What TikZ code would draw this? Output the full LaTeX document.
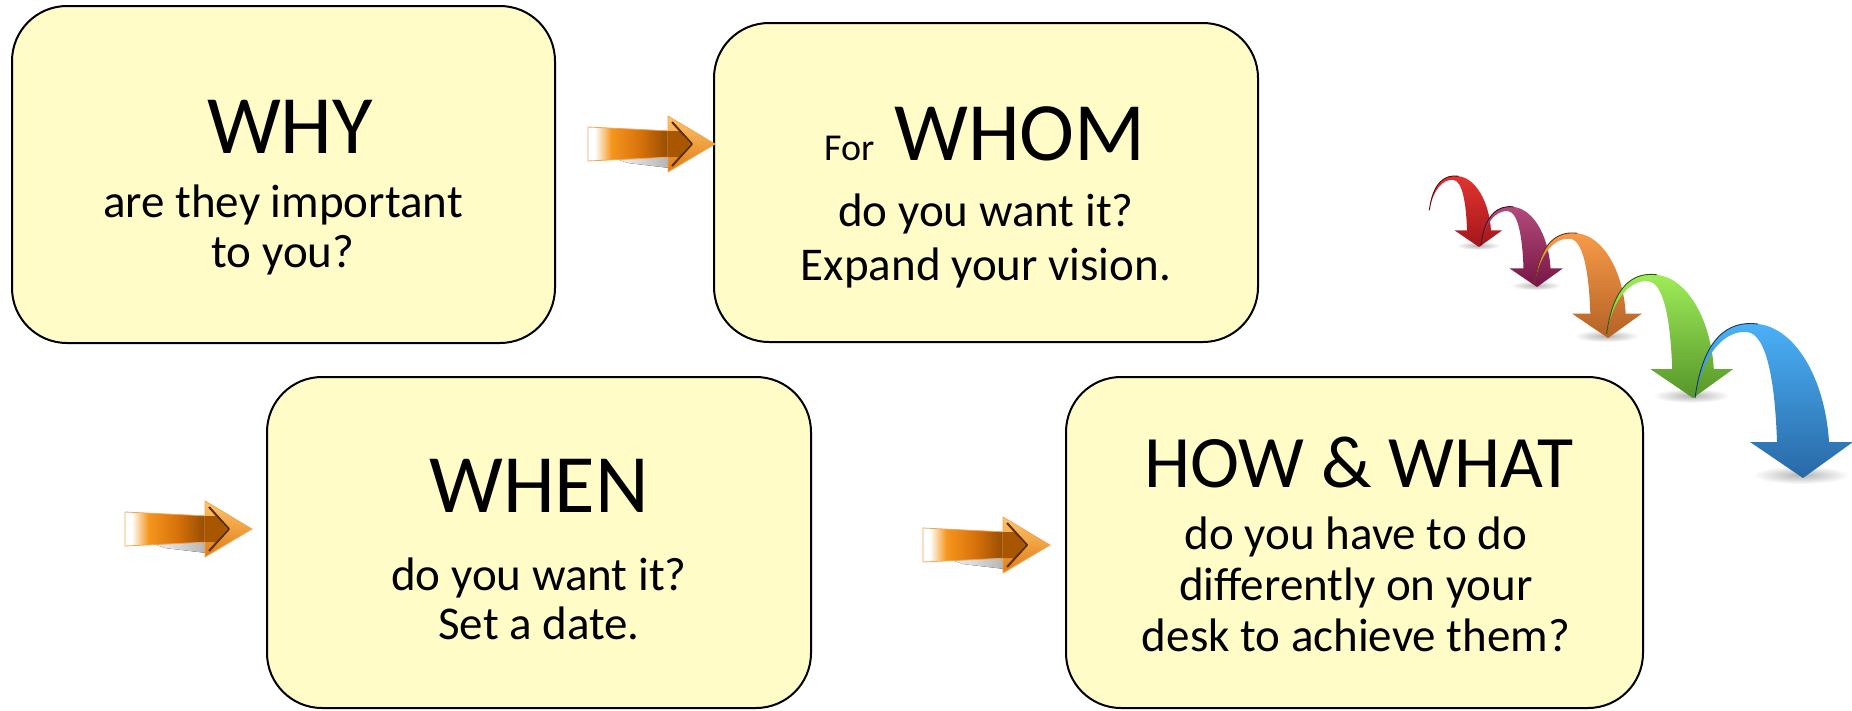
\documentclass[tikz,border=0pt]{standalone}
\usepackage{fontspec}
\setmainfont{Carlito}

% colours
\definecolor{boxfill}{HTML}{FFFCC8}
\definecolor{orA}{HTML}{F5961E}
\definecolor{orB}{HTML}{D8720A}
\definecolor{orC}{HTML}{8C4800}
\definecolor{orHi}{HTML}{FFC56E}
\definecolor{orLo}{HTML}{E07A10}
\definecolor{orEdge}{HTML}{F0A555}
\definecolor{orDark}{HTML}{A95600}
\definecolor{orLine}{HTML}{5A2E00}
\definecolor{redT}{HTML}{E2352F}\definecolor{redB}{HTML}{A4161B}
\definecolor{purT}{HTML}{B44C7C}\definecolor{purB}{HTML}{761646}
\definecolor{ornT}{HTML}{F99C4A}\definecolor{ornB}{HTML}{B46226}
\definecolor{grnT}{HTML}{A0EE5A}\definecolor{grnB}{HTML}{56962A}
\definecolor{bluT}{HTML}{4CB2F8}\definecolor{bluB}{HTML}{2868A6}

% shaft gradient: white tail into dark orange near the head
\pgfdeclarehorizontalshading{orshaft}{100bp}{color(0bp)=(white); color(25bp)=(white); color(29bp)=(white); color(39bp)=(orA); color(56bp)=(orB); color(75bp)=(orC); color(100bp)=(orC)}

\newcommand\bigtxt{\fontsize{83}{90}\selectfont}
\newcommand\howtxt{\fontsize{74}{80}\selectfont}
\newcommand\smalltxt{\fontsize{47}{54}\selectfont}
\newcommand\fortxt{\fontsize{38}{44}\selectfont}

% arched ribbon arrow: x, y of tip, scale, top colour, bottom colour
\newcommand\curlarrow[5]{%
  \begin{scope}[shift={(#1,#2)}, scale=#3]
    \shade[inner color=gray!60, outer color=white] (-2,-3) ellipse [x radius=48, y radius=9];
    \shade[top color=#4, bottom color=#5]
      (-108,-80) .. controls (-100,-140) and (-75,-158) .. (-45,-154)
      .. controls (-8,-150) and (22,-100) .. (26,-36)
      -- (50,-36) -- (0,0) -- (-53,-36) -- (-26,-36)
      .. controls (-28,-95) and (-36,-144) .. (-56,-146)
      .. controls (-78,-148) and (-100,-125) .. cycle;
    \draw[#5!55!black, line width=0.9pt]
      (-108,-80) .. controls (-100,-140) and (-75,-158) .. (-45,-154);
  \end{scope}}

\tikzset{
  box/.style={draw=black, line width=2pt, fill=boxfill, rounded corners=55pt,
    inner sep=0pt, outer sep=0pt},
  line/.style={anchor=base, inner sep=0pt},
  orarrow/.pic={
    \fill[left color=white, right color=gray!60] (20,12) -- (82,12) -- (82,24) -- (40,19) -- cycle;
    \shadedraw[shading=orshaft, draw=orEdge, line width=0.8pt] (0,-17) -- (84,-13) -- (84,13) -- (0,17) -- cycle;
    \shadedraw[top color=orHi, bottom color=orLo, draw=orEdge, line width=0.8pt] (80,-28) -- (127,0) -- (80,28) -- cycle;
    \fill[orDark] (80,-13) -- (91,-13) -- (102,0) -- (91,13) -- (80,13) -- cycle;
    \draw[orLine, line width=2pt, line join=round] (84,-22) -- (104,0) -- (84,22);
  }
}

\begin{document}
\begin{tikzpicture}[x=1pt, y=-1pt]
  \useasboundingbox (0,0) rectangle (1852,710);

  % boxes
  \node[box, minimum width=543pt, minimum height=337pt] (why)  at (283.5,174.5) {};
  \node[box, minimum width=544pt, minimum height=319pt] (whom) at (986,182.5) {};
  \node[box, minimum width=544pt, minimum height=331pt] (when) at (539,542.5) {};
  \node[box, minimum width=577pt, minimum height=331pt] (how)  at (1354.5,542.5) {};

  % box texts
  \node[line, font=\bigtxt]   (whyA) at (290,153) {WHY};
  \node[line, font=\smalltxt] (whyB) at (283,217) {are they important};
  \node[line, font=\smalltxt] (whyC) at (283,267) {to you?};

  \node[line] (whomA) at (985,160) {{\fortxt For}\hspace{20pt}{\bigtxt WHOM}};
  \node[line, font=\smalltxt] (whomB) at (986,226) {do you want it?};
  \node[line, font=\smalltxt] (whomC) at (986,280) {Expand your vision.};

  \node[line, font=\bigtxt]   (whenA) at (539,512) {WHEN};
  \node[line, font=\smalltxt] (whenB) at (539,590) {do you want it?};
  \node[line, font=\smalltxt] (whenC) at (539,639) {Set a date.};

  \node[line, font=\howtxt]   (howA) at (1359,487) {HOW \& WHAT};
  \node[line, font=\smalltxt] (howB) at (1356,549) {do you have to do};
  \node[line, font=\smalltxt] (howC) at (1356,600) {differently on your};
  \node[line, font=\smalltxt] (howD) at (1356,651) {desk to achieve them?};

  % orange pointer arrows
  \pic (arr1) at (588,144) {orarrow};
  \pic (arr2) at (125,529) {orarrow};
  \pic (arr3) at (923,545) {orarrow};

  % cascade of arched arrows
  \curlarrow{1479}{247}{0.46}{redT}{redB}
  \curlarrow{1537}{287}{0.52}{purT}{purB}
  \curlarrow{1608}{338}{0.68}{ornT}{ornB}
  \curlarrow{1693}{398}{0.80}{grnT}{grnB}
  \curlarrow{1803}{478}{1.00}{bluT}{bluB}
\end{tikzpicture}
\end{document}
